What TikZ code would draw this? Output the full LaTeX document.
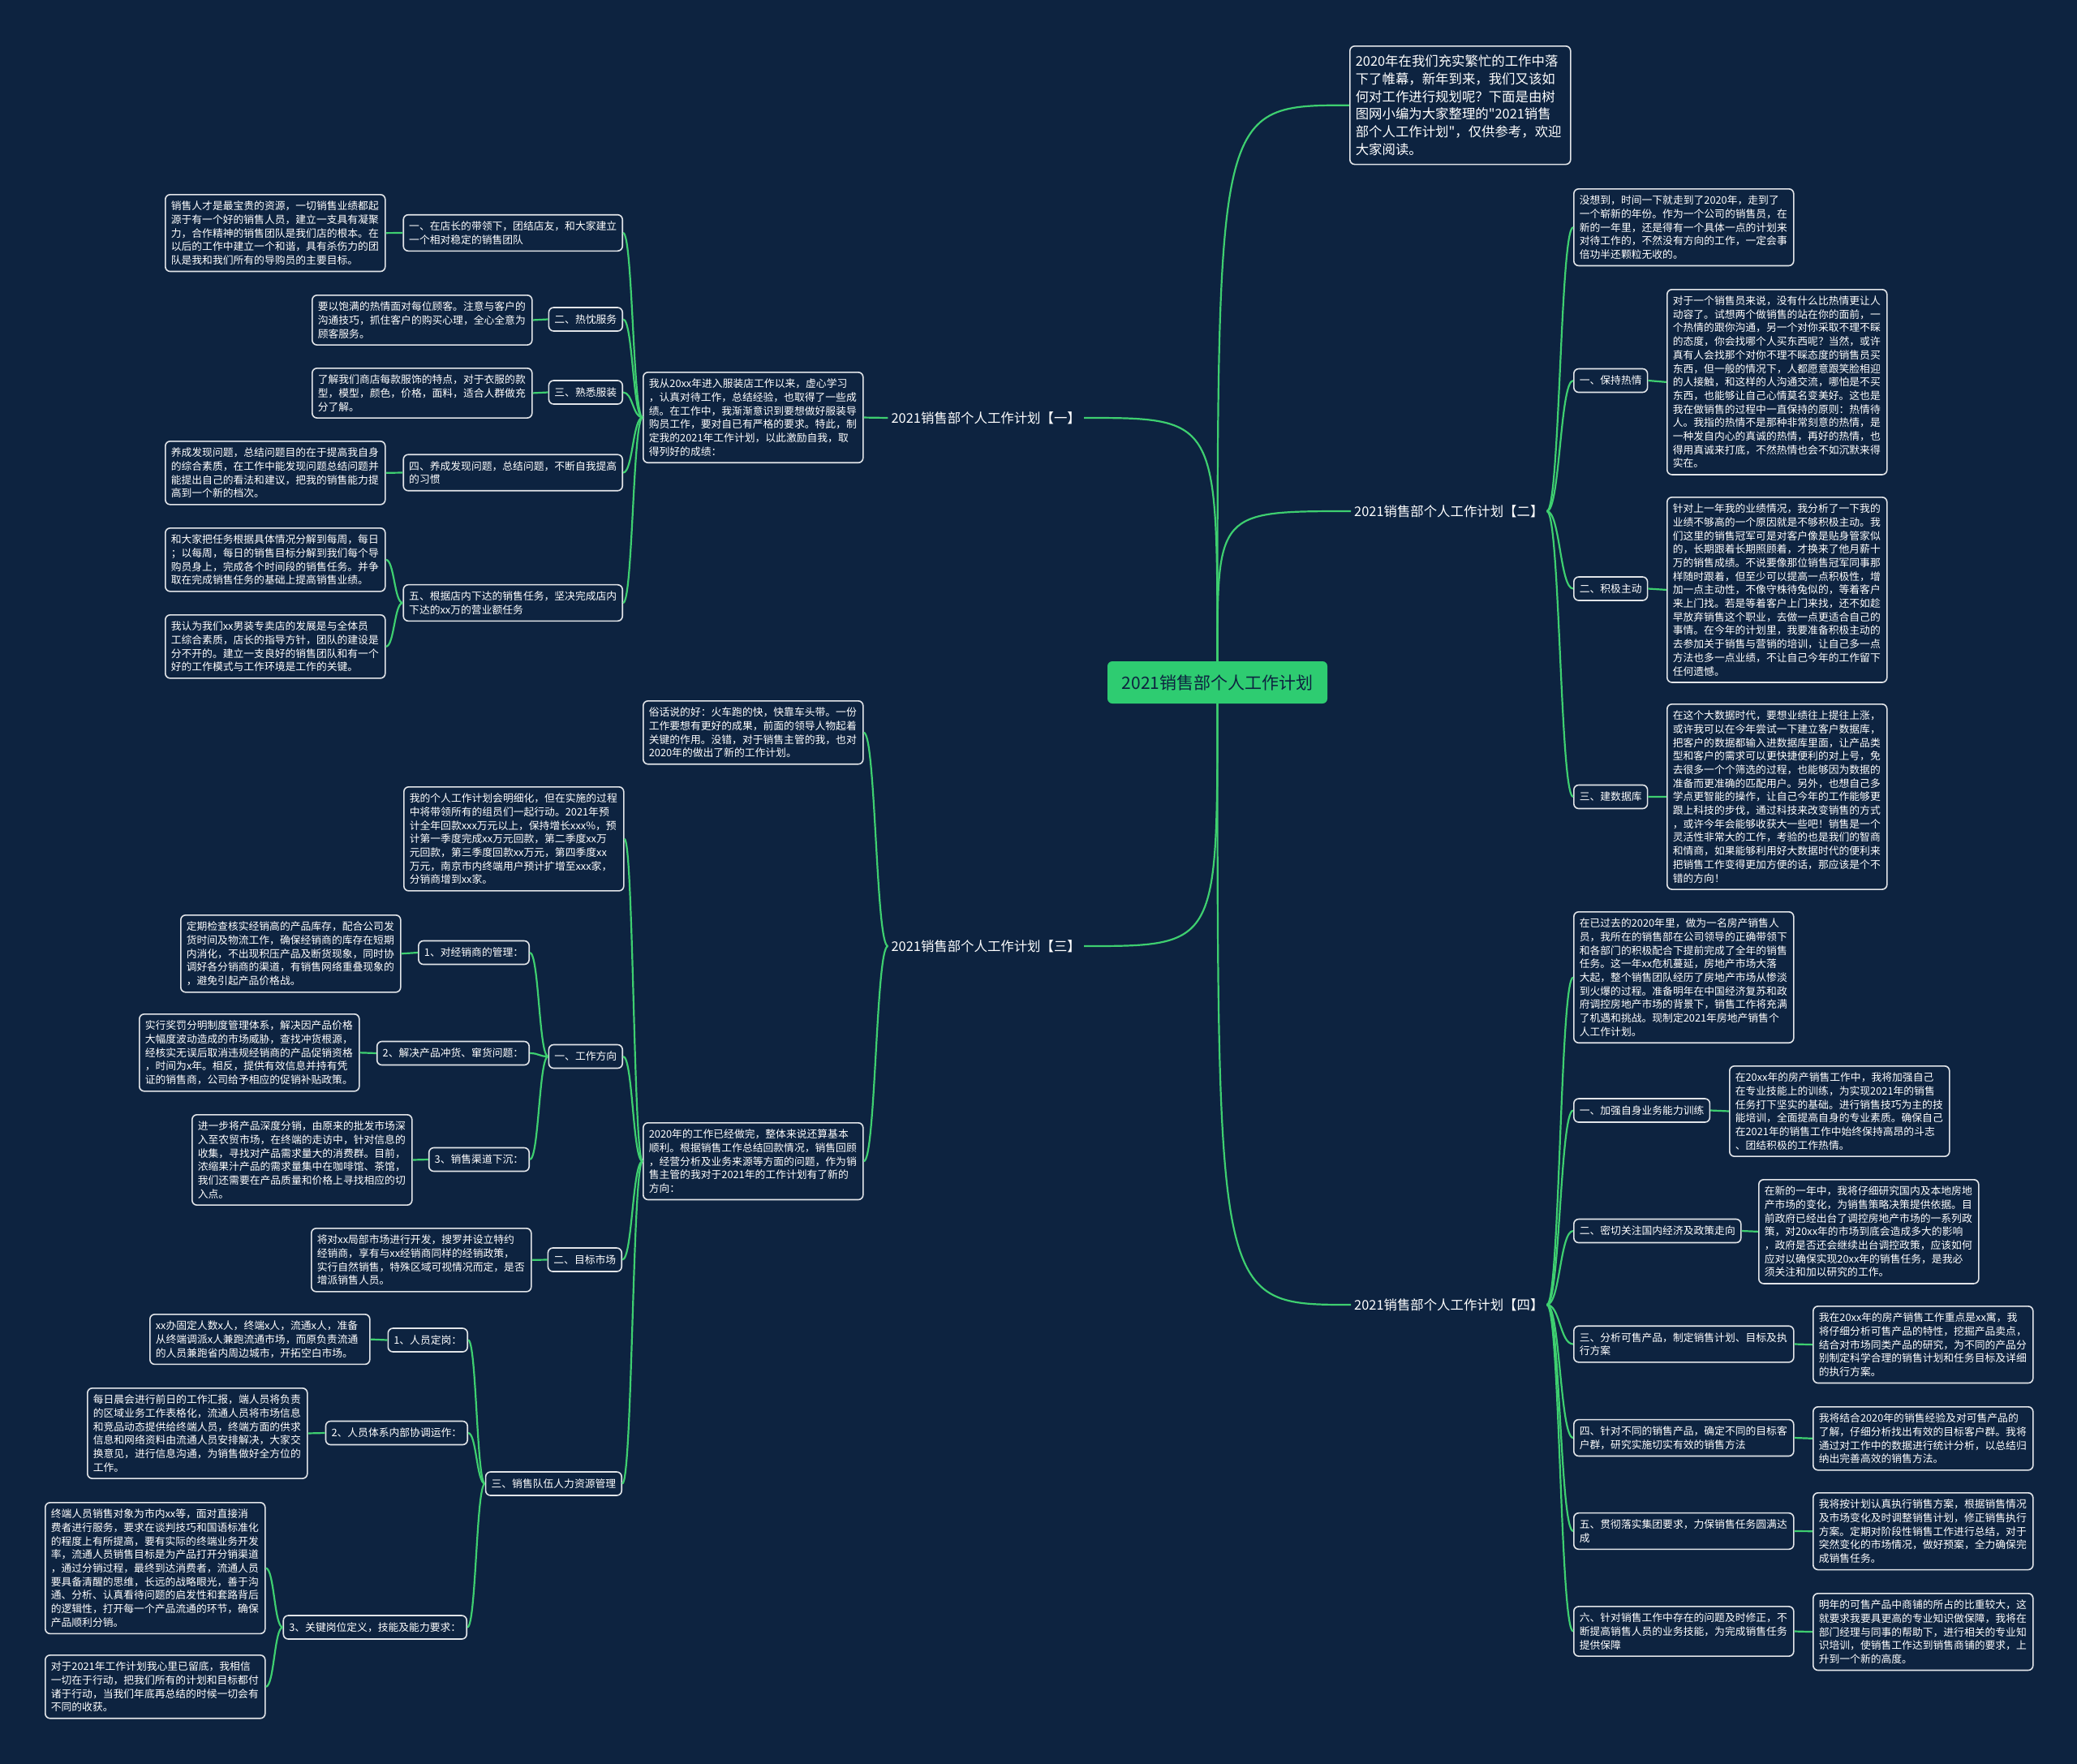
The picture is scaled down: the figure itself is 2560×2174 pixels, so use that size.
\documentclass[tikz,border=0pt]{standalone}
\usepackage{fontspec}
\setmainfont{Noto Sans CJK SC}
\newfontfamily\cjk{Noto Sans CJK SC}
\usetikzlibrary{calc}
\definecolor{bg}{RGB}{13,35,64}
\definecolor{boxline}{RGB}{225,228,232}
\definecolor{lnk}{RGB}{62,207,112}
\definecolor{cfill}{RGB}{46,204,113}
\tikzset{
  para/.style={draw=boxline, line width=1.6pt, fill=bg, rounded corners=6pt, text=white,
    align=left, text width=257pt, inner xsep=7pt, inner ysep=8pt,
    font=\cjk\fontsize{12.8}{16.7}\selectfont, anchor=north west},
  lab/.style={draw=boxline, line width=1.6pt, fill=bg, rounded corners=6pt, text=white,
    align=left, inner xsep=7pt, inner ysep=8pt, minimum height=29pt,
    font=\cjk\fontsize{12.8}{16.7}\selectfont},
  introbox/.style={para, text width=258pt, inner ysep=11pt, font=\cjk\fontsize{16.4}{21.7}\selectfont},
  topic/.style={text=white, inner sep=4pt, font=\cjk\fontsize{16.4}{20}\selectfont},
  rootnode/.style={fill=cfill, rounded corners=6pt, minimum width=271pt, minimum height=52pt,
    text=bg, font=\cjk\fontsize{21}{25}\selectfont},
  link/.style={draw=lnk, line width=2.2pt},
  hcurve/.style={to path={let \p1=(\tikztostart), \p2=(\tikztotarget) in
    .. controls ({(\x1+\x2)/2},\y1) and ({(\x1+\x2)/2},\y2) .. (\tikztotarget)}},
  vcurve/.style={to path={let \p1=(\tikztostart), \p2=(\tikztotarget) in
    .. controls (\x1,\y2) .. (\tikztotarget)}}
}
\begin{document}
\begin{tikzpicture}[x=1pt,y=-1pt]
\useasboundingbox (0,0) rectangle (2560,2174);
\fill[bg] (0,0) rectangle (2560,2174);

% ---------------- root and topics
\node[rootnode] (C) at (1500.5,841) {2021销售部个人工作计划};
\node[topic, anchor=east] (B1) at (1336,515) {2021销售部个人工作计划【一】};
\node[topic, anchor=west] (B2) at (1665,630) {2021销售部个人工作计划【二】};
\node[topic, anchor=east] (B3) at (1336,1166) {2021销售部个人工作计划【三】};
\node[topic, anchor=west] (B4) at (1665,1608) {2021销售部个人工作计划【四】};

\node[introbox] (intro) at (1663,56) {2020年在我们充实繁忙的工作中落\\下了帷幕，新年到来，我们又该如\\何对工作进行规划呢？下面是由树\\图网小编为大家整理的"2021销售\\部个人工作计划"，仅供参考，欢迎\\大家阅读。};

% ---------------- branch 二
\node[para] (r2p) at (1939,232) {没想到，时间一下就走到了2020年，走到了\\一个崭新的年份。作为一个公司的销售员，在\\新的一年里，还是得有一个具体一点的计划来\\对待工作的，不然没有方向的工作，一定会事\\倍功半还颗粒无收的。};
\node[lab, anchor=west] (r2l1) at (1939,469) {一、保持热情};
\node[para] (r2l1p) at (2054,356) {对于一个销售员来说，没有什么比热情更让人\\动容了。试想两个做销售的站在你的面前，一\\个热情的跟你沟通，另一个对你采取不理不睬\\的态度，你会找哪个人买东西呢？当然，或许\\真有人会找那个对你不理不睬态度的销售员买\\东西，但一般的情况下，人都愿意跟笑脸相迎\\的人接触，和这样的人沟通交流，哪怕是不买\\东西，也能够让自己心情莫名变美好。这也是\\我在做销售的过程中一直保持的原则：热情待\\人。我指的热情不是那种非常刻意的热情，是\\一种发自内心的真诚的热情，再好的热情，也\\得用真诚来打底，不然热情也会不如沉默来得\\实在。};
\node[lab, anchor=west] (r2l2) at (1939,725.5) {二、积极主动};
\node[para] (r2l2p) at (2054,612) {针对上一年我的业绩情况，我分析了一下我的\\业绩不够高的一个原因就是不够积极主动。我\\们这里的销售冠军可是对客户像是贴身管家似\\的，长期跟着长期照顾着，才换来了他月薪十\\万的销售成绩。不说要像那位销售冠军同事那\\样随时跟着，但至少可以提高一点积极性，增\\加一点主动性，不像守株待兔似的，等着客户\\来上门找。若是等着客户上门来找，还不如趁\\早放弃销售这个职业，去做一点更适合自己的\\事情。在今年的计划里，我要准备积极主动的\\去参加关于销售与营销的培训，让自己多一点\\方法也多一点业绩，不让自己今年的工作留下\\任何遗憾。};
\node[lab, anchor=west] (r2l3) at (1939,982) {三、建数据库};
\node[para] (r2l3p) at (2054,867) {在这个大数据时代，要想业绩往上提往上涨，\\或许我可以在今年尝试一下建立客户数据库，\\把客户的数据都输入进数据库里面，让产品类\\型和客户的需求可以更快捷便利的对上号，免\\去很多一个个筛选的过程，也能够因为数据的\\准备而更准确的匹配用户。另外，也想自己多\\学点更智能的操作，让自己今年的工作能够更\\跟上科技的步伐，通过科技来改变销售的方式\\，或许今年会能够收获大一些吧！销售是一个\\灵活性非常大的工作，考验的也是我们的智商\\和情商，如果能够利用好大数据时代的便利来\\把销售工作变得更加方便的话，那应该是个不\\错的方向！};

% ---------------- branch 四
\node[para] (r4p) at (1939,1123) {在已过去的2020年里，做为一名房产销售人\\员，我所在的销售部在公司领导的正确带领下\\和各部门的积极配合下提前完成了全年的销售\\任务。这一年xx危机蔓延，房地产市场大落\\大起，整个销售团队经历了房地产市场从惨淡\\到火爆的过程。准备明年在中国经济复苏和政\\府调控房地产市场的背景下，销售工作将充满\\了机遇和挑战。现制定2021年房地产销售个\\人工作计划。};
\node[lab, anchor=west] (r4l1) at (1939,1368.5) {一、加强自身业务能力训练};
\node[para] (r4l1p) at (2131,1313) {在20xx年的房产销售工作中，我将加强自己\\在专业技能上的训练，为实现2021年的销售\\任务打下坚实的基础。进行销售技巧为主的技\\能培训，全面提高自身的专业素质。确保自己\\在2021年的销售工作中始终保持高昂的斗志\\、团结积极的工作热情。};
\node[lab, anchor=west] (r4l2) at (1939,1517) {二、密切关注国内经济及政策走向};
\node[para] (r4l2p) at (2167,1453) {在新的一年中，我将仔细研究国内及本地房地\\产市场的变化，为销售策略决策提供依据。目\\前政府已经出台了调控房地产市场的一系列政\\策，对20xx年的市场到底会造成多大的影响\\，政府是否还会继续出台调控政策，应该如何\\应对以确保实现20xx年的销售任务，是我必\\须关注和加以研究的工作。};
\node[lab, anchor=west, text width=257pt] (r4l3) at (1939,1656.5) {三、分析可售产品，制定销售计划、目标及执\\行方案};
\node[para] (r4l3p) at (2234,1609) {我在20xx年的房产销售工作重点是xx寓，我\\将仔细分析可售产品的特性，挖掘产品卖点，\\结合对市场同类产品的研究，为不同的产品分\\别制定科学合理的销售计划和任务目标及详细\\的执行方案。};
\node[lab, anchor=west, text width=257pt] (r4l4) at (1939,1772) {四、针对不同的销售产品，确定不同的目标客\\户群，研究实施切实有效的销售方法};
\node[para] (r4l4p) at (2234,1733) {我将结合2020年的销售经验及对可售产品的\\了解，仔细分析找出有效的目标客户群。我将\\通过对工作中的数据进行统计分析，以总结归\\纳出完善高效的销售方法。};
\node[lab, anchor=west, text width=257pt] (r4l5) at (1939,1887) {五、贯彻落实集团要求，力保销售任务圆满达\\成};
\node[para] (r4l5p) at (2234,1839) {我将按计划认真执行销售方案，根据销售情况\\及市场变化及时调整销售计划，修正销售执行\\方案。定期对阶段性销售工作进行总结，对于\\突然变化的市场情况，做好预案，全力确保完\\成销售任务。};
\node[lab, anchor=west, text width=257pt] (r4l6) at (1939,2010.5) {六、针对销售工作中存在的问题及时修正，不\\断提高销售人员的业务技能，为完成销售任务\\提供保障};
\node[para] (r4l6p) at (2234,1963) {明年的可售产品中商铺的所占的比重较大，这\\就要求我要具更高的专业知识做保障，我将在\\部门经理与同事的帮助下，进行相关的专业知\\识培训，使销售工作达到销售商铺的要求，上\\升到一个新的高度。};

% ---------------- branch 一
\node[para] (l1p) at (792,458) {我从20xx年进入服装店工作以来，虚心学习\\，认真对待工作，总结经验，也取得了一些成\\绩。在工作中，我渐渐意识到要想做好服装导\\购员工作，要对自已有严格的要求。特此，制\\定我的2021年工作计划，以此激励自我，取\\得列好的成绩：};
\node[lab, anchor=east, text width=256pt] (l1a) at (768,287) {一、在店长的带领下，团结店友，和大家建立\\一个相对稳定的销售团队};
\node[para] (l1ap) at (203,239) {销售人才是最宝贵的资源，一切销售业绩都起\\源于有一个好的销售人员，建立一支具有凝聚\\力，合作精神的销售团队是我们店的根本。在\\以后的工作中建立一个和谐，具有杀伤力的团\\队是我和我们所有的导购员的主要目标。};
\node[lab, anchor=east] (l1b) at (768,393.5) {二、热忱服务};
\node[para] (l1bp) at (384,363) {要以饱满的热情面对每位顾客。注意与客户的\\沟通技巧，抓住客户的购买心理，全心全意为\\顾客服务。};
\node[lab, anchor=east] (l1c) at (768,483.5) {三、熟悉服装};
\node[para] (l1cp) at (384,453) {了解我们商店每款服饰的特点，对于衣服的款\\型，模型，颜色，价格，面料，适合人群做充\\分了解。};
\node[lab, anchor=east, text width=256pt] (l1d) at (768,582.5) {四、养成发现问题，总结问题，不断自我提高\\的习惯};
\node[para] (l1dp) at (203,543) {养成发现问题，总结问题目的在于提高我自身\\的综合素质，在工作中能发现问题总结问题并\\能提出自己的看法和建议，把我的销售能力提\\高到一个新的档次。};
\node[lab, anchor=east, text width=256pt] (l1e) at (768,743) {五、根据店内下达的销售任务，坚决完成店内\\下达的xx万的营业额任务};
\node[para] (l1ep1) at (203,650) {和大家把任务根据具体情况分解到每周，每日\\；以每周，每日的销售目标分解到我们每个导\\购员身上，完成各个时间段的销售任务。并争\\取在完成销售任务的基础上提高销售业绩。};
\node[para] (l1ep2) at (203,757) {我认为我们xx男装专卖店的发展是与全体员\\工综合素质，店长的指导方针，团队的建设是\\分不开的。建立一支良好的销售团队和有一个\\好的工作模式与工作环境是工作的关键。};

% ---------------- branch 三
\node[para] (l3p1) at (792,863) {俗话说的好：火车跑的快，快靠车头带。一份\\工作要想有更好的成果，前面的领导人物起着\\关键的作用。没错，对于销售主管的我，也对\\2020年的做出了新的工作计划。};
\node[para] (l3p2) at (792,1383) {2020年的工作已经做完，整体来说还算基本\\顺利。根据销售工作总结回款情况，销售回顾\\，经营分析及业务来源等方面的问题，作为销\\售主管的我对于2021年的工作计划有了新的\\方向：};
\node[para] (l3a) at (497,969) {我的个人工作计划会明细化，但在实施的过程\\中将带领所有的组员们一起行动。2021年预\\计全年回款xxx万元以上，保持增长xxx\%，预\\计第一季度完成xx万元回款，第二季度xx万\\元回款，第三季度回款xx万元，第四季度xx\\万元，南京市内终端用户预计扩增至xxx家，\\分销商增到xx家。};
\node[lab, anchor=east] (l3b) at (768,1302) {一、工作方向};
\node[lab, anchor=east] (l3b1) at (653,1174) {1、对经销商的管理：};
\node[para] (l3b1p) at (222,1127) {定期检查核实经销高的产品库存，配合公司发\\货时间及物流工作，确保经销商的库存在短期\\内消化，不出现积压产品及断货现象，同时协\\调好各分销商的渠道，有销售网络重叠现象的\\，避免引起产品价格战。};
\node[lab, anchor=east] (l3b2) at (653,1298) {2、解决产品冲货、窜货问题：};
\node[para] (l3b2p) at (171,1249) {实行奖罚分明制度管理体系，解决因产品价格\\大幅度波动造成的市场威胁，查找冲货根源，\\经核实无误后取消违规经销商的产品促销资格\\，时间为x年。相反，提供有效信息并持有凭\\证的销售商，公司给予相应的促销补贴政策。};
\node[lab, anchor=east] (l3b3) at (653,1429) {3、销售渠道下沉：};
\node[para] (l3b3p) at (236,1373) {进一步将产品深度分销，由原来的批发市场深\\入至农贸市场，在终端的走访中，针对信息的\\收集，寻找对产品需求量大的消费群。目前，\\浓缩果汁产品的需求量集中在咖啡馆、茶馆，\\我们还需要在产品质量和价格上寻找相应的切\\入点。};
\node[lab, anchor=east] (l3c) at (767,1552.5) {二、目标市场};
\node[para] (l3cp) at (383,1513) {将对xx局部市场进行开发，搜罗并设立特约\\经销商，享有与xx经销商同样的经销政策，\\实行自然销售，特殊区域可视情况而定，是否\\增派销售人员。};
\node[lab, anchor=east] (l3d) at (767,1828.5) {三、销售队伍人力资源管理};
\node[lab, anchor=east] (l3d1) at (577,1651.5) {1、人员定岗：};
\node[para] (l3d1p) at (184,1619) {xx办固定人数x人，终端x人，流通x人，准备\\从终端调派x人兼跑流通市场，而原负责流通\\的人员兼跑省内周边城市，开拓空白市场。};
\node[lab, anchor=east] (l3d2) at (577,1766) {2、人员体系内部协调运作：};
\node[para] (l3d2p) at (107,1710) {每日晨会进行前日的工作汇报，端人员将负责\\的区域业务工作表格化，流通人员将市场信息\\和竞品动态提供给终端人员，终端方面的供求\\信息和网络资料由流通人员安排解决，大家交\\换意见，进行信息沟通，为销售做好全方位的\\工作。};
\node[lab, anchor=east] (l3d3) at (576,2005.5) {3、关键岗位定义，技能及能力要求：};
\node[para] (l3d3p1) at (55,1851) {终端人员销售对象为市内xx等，面对直接消\\费者进行服务，要求在谈判技巧和国语标准化\\的程度上有所提高，要有实际的终端业务开发\\率，流通人员销售目标是为产品打开分销渠道\\，通过分销过程，最终到达消费者，流通人员\\要具备清醒的思维，长远的战略眼光，善于沟\\通、分析、认真看待问题的启发性和套路背后\\的逻辑性，打开每一个产品流通的环节，确保\\产品顺利分销。};
\node[para] (l3d3p2) at (55,2039) {对于2021年工作计划我心里已留底，我相信\\一切在于行动，把我们所有的计划和目标都付\\诸于行动，当我们年底再总结的时候一切会有\\不同的收获。};

% ---------------- connectors
\path[link] (C.north) to[vcurve] (B1.east);
\path[link] (C.north) to[vcurve] (B2.west);
\path[link] (C.north) to[vcurve] (intro.west);
\path[link] (C.south) to[vcurve] (B3.east);
\path[link] (C.south) to[vcurve] (B4.west);

\foreach \t in {r2p,r2l1,r2l2,r2l3} \path[link] (B2.east) to[hcurve] (\t.west);
\foreach \a in {r2l1,r2l2,r2l3} \path[link] (\a.east) to[hcurve] (\a p.west);
\foreach \t in {r4p,r4l1,r4l2,r4l3,r4l4,r4l5,r4l6} \path[link] (B4.east) to[hcurve] (\t.west);
\foreach \a in {r4l1,r4l2,r4l3,r4l4,r4l5,r4l6} \path[link] (\a.east) to[hcurve] (\a p.west);

\path[link] (B1.west) to[hcurve] (l1p.east);
\foreach \t in {l1a,l1b,l1c,l1d,l1e} \path[link] (l1p.west) to[hcurve] (\t.east);
\foreach \a in {l1a,l1b,l1c,l1d} \path[link] (\a.west) to[hcurve] (\a p.east);
\path[link] (l1e.west) to[hcurve] (l1ep1.east);
\path[link] (l1e.west) to[hcurve] (l1ep2.east);

\path[link] (B3.west) to[hcurve] (l3p1.east);
\path[link] (B3.west) to[hcurve] (l3p2.east);
\foreach \t in {l3a,l3b,l3c,l3d} \path[link] (l3p2.west) to[hcurve] (\t.east);
\foreach \t in {l3b1,l3b2,l3b3} \path[link] (l3b.west) to[hcurve] (\t.east);
\foreach \a in {l3b1,l3b2,l3b3} \path[link] (\a.west) to[hcurve] (\a p.east);
\path[link] (l3c.west) to[hcurve] (l3cp.east);
\foreach \t in {l3d1,l3d2,l3d3} \path[link] (l3d.west) to[hcurve] (\t.east);
\path[link] (l3d1.west) to[hcurve] (l3d1p.east);
\path[link] (l3d2.west) to[hcurve] (l3d2p.east);
\path[link] (l3d3.west) to[hcurve] (l3d3p1.east);
\path[link] (l3d3.west) to[hcurve] (l3d3p2.east);
\end{tikzpicture}
\end{document}
